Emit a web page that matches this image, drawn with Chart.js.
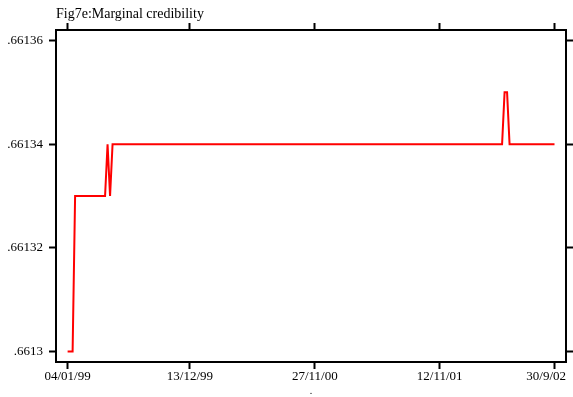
<!DOCTYPE html>
<html>
<head>
<meta charset="utf-8">
<script src="https://cdn.jsdelivr.net/npm/chart.js@4.4.0/dist/chart.umd.min.js"></script>
<style>
  body { margin: 0; background: #fff; }
  #wrap { width: 573px; height: 397px; position: relative; }
</style>
</head>
<body>
<div id="wrap"><canvas id="chart"></canvas></div>
<script>
// weeks since 04/01/99 where the series changes level (line vertices)
const weeks = [0, 2, 3, 15, 16, 17, 18, 174, 175, 176, 177, 195];
const credibility = [0.66130, 0.66130, 0.66133, 0.66133, 0.66134, 0.66133, 0.66134, 0.66134, 0.66135, 0.66135, 0.66134, 0.66134];

const xTickWeeks = [0, 49, 99, 149, 195];
const xTickLabels = ['04/01/99', '13/12/99', '27/11/00', '12/11/01', '30/9/02'];
const yTickValues = [0.66130, 0.66132, 0.66134, 0.66136];
const yTickLabels = ['.6613', '.66132', '.66134', '.66136'];

Chart.defaults.font.family = "'Liberation Serif', 'Times New Roman', serif";
Chart.defaults.font.size = 13;
Chart.defaults.color = '#000';

const frame = { display: true, color: '#000', width: 2 };
const tickMarks = { drawOnChartArea: false, drawTicks: true, tickLength: 7, tickWidth: 2, tickColor: '#000' };

const xRange = { min: -4.65, max: 199.6 };
const yRange = { min: 0.66129797, max: 0.66136203 };

// the last date label is pulled back inside the plot frame
const keepLastLabelInside = {
    id: 'keepLastLabelInside',
    beforeDraw(chart) {
        const scale = chart.scales.x;
        const items = scale.getLabelItems();
        const last = items[items.length - 1];
        if (last) {
            last.options.textAlign = 'right';
            last.options.translation[0] = chart.chartArea.right;
        }
    }
};

function xAxis(position, size, showLabels, title) {
    return {
        type: 'linear',
        position: position,
        min: xRange.min,
        max: xRange.max,
        bounds: 'data',
        border: frame,
        grid: tickMarks,
        afterBuildTicks: axis => { axis.ticks = xTickWeeks.map(v => ({ value: v })); },
        afterFit: axis => {
            axis.height = size;
            axis.paddingLeft = 0;
            axis.paddingRight = 0;
        },
        ticks: {
            display: showLabels,
            autoSkip: false,
            maxRotation: 0,
            padding: 0,
            callback: (value, index) => xTickLabels[index]
        },
        title: title
    };
}

function yAxis(position, size, showLabels) {
    return {
        type: 'linear',
        position: position,
        min: yRange.min,
        max: yRange.max,
        bounds: 'data',
        border: frame,
        grid: tickMarks,
        afterBuildTicks: axis => { axis.ticks = yTickValues.map(v => ({ value: v })); },
        afterFit: axis => {
            axis.width = size;
            axis.paddingTop = 0;
            axis.paddingBottom = 0;
        },
        ticks: {
            display: showLabels,
            padding: 6,
            callback: (value, index) => yTickLabels[index]
        }
    };
}

new Chart(document.getElementById('chart'), {
    type: 'line',
    data: {
        datasets: [{
            label: 'Marginal credibility',
            data: weeks.map((w, i) => ({ x: w, y: credibility[i] })),
            borderColor: '#ff0000',
            borderWidth: 2,
            pointRadius: 0,
            tension: 0,
            fill: false
        }]
    },
    options: {
        responsive: true,
        maintainAspectRatio: false,
        animation: false,
        layout: { padding: 0 },
        plugins: {
            legend: { display: false },
            tooltip: { enabled: false },
            title: { display: false }
        },
        scales: {
            x: xAxis('bottom', 35, true, { display: true, text: '.', align: 'center', font: { size: 10 }, padding: 0 }),
            x2: xAxis('top', 30, false, { display: true, text: 'Fig7e:Marginal credibility', align: 'start', font: { size: 14 }, padding: { top: 6, bottom: 0 } }),
            y: yAxis('left', 56, true),
            y2: yAxis('right', 7, false)
        }
    },
    plugins: [keepLastLabelInside]
});
</script>
</body>
</html>
